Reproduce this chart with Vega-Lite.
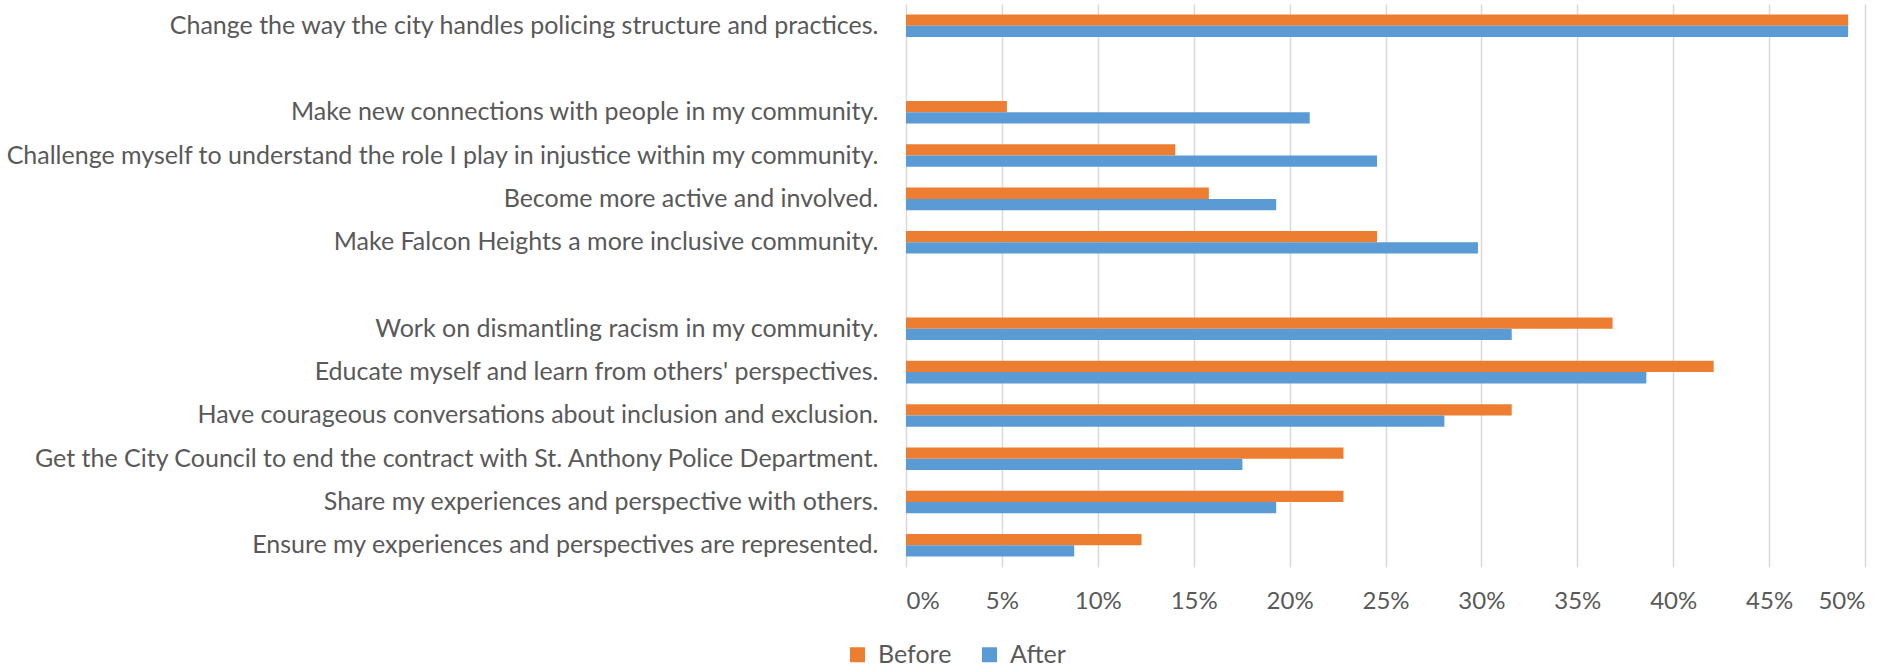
{
  "$schema": "https://vega.github.io/schema/vega-lite/v6.json",
  "width": 959,
  "height": 563,
  "autosize": {"type": "none"},
  "padding": {"left": 906, "top": 4, "right": 25, "bottom": 101},
  "config": {"view": {"stroke": null}, "font": "Lato", "background": "white"},
  "data": {"values": [
    {"item": "Change the way the city handles policing structure and practices.", "series": "Before", "value": 0.4912},
    {"item": "Change the way the city handles policing structure and practices.", "series": "After", "value": 0.4912},
    {"item": "Make new connections with people in my community.", "series": "Before", "value": 0.0526},
    {"item": "Make new connections with people in my community.", "series": "After", "value": 0.2105},
    {"item": "Challenge myself to understand the role I play in injustice within my community.", "series": "Before", "value": 0.1404},
    {"item": "Challenge myself to understand the role I play in injustice within my community.", "series": "After", "value": 0.2456},
    {"item": "Become more active and involved.", "series": "Before", "value": 0.1579},
    {"item": "Become more active and involved.", "series": "After", "value": 0.1930},
    {"item": "Make Falcon Heights a more inclusive community.", "series": "Before", "value": 0.2456},
    {"item": "Make Falcon Heights a more inclusive community.", "series": "After", "value": 0.2982},
    {"item": "Work on dismantling racism in my community.", "series": "Before", "value": 0.3684},
    {"item": "Work on dismantling racism in my community.", "series": "After", "value": 0.3158},
    {"item": "Educate myself and learn from others' perspectives.", "series": "Before", "value": 0.4211},
    {"item": "Educate myself and learn from others' perspectives.", "series": "After", "value": 0.3860},
    {"item": "Have courageous conversations about inclusion and exclusion.", "series": "Before", "value": 0.3158},
    {"item": "Have courageous conversations about inclusion and exclusion.", "series": "After", "value": 0.2807},
    {"item": "Get the City Council to end the contract with St. Anthony Police Department.", "series": "Before", "value": 0.2281},
    {"item": "Get the City Council to end the contract with St. Anthony Police Department.", "series": "After", "value": 0.1754},
    {"item": "Share my experiences and perspective with others.", "series": "Before", "value": 0.2281},
    {"item": "Share my experiences and perspective with others.", "series": "After", "value": 0.1930},
    {"item": "Ensure my experiences and perspectives are represented.", "series": "Before", "value": 0.1228},
    {"item": "Ensure my experiences and perspectives are represented.", "series": "After", "value": 0.0877}
  ]},
  "mark": {"type": "bar"},
  "encoding": {
    "y": {
      "field": "item", "type": "nominal",
      "scale": {
        "domain": [
          "Change the way the city handles policing structure and practices.",
          " ",
          "Make new connections with people in my community.",
          "Challenge myself to understand the role I play in injustice within my community.",
          "Become more active and involved.",
          "Make Falcon Heights a more inclusive community.",
          "  ",
          "Work on dismantling racism in my community.",
          "Educate myself and learn from others' perspectives.",
          "Have courageous conversations about inclusion and exclusion.",
          "Get the City Council to end the contract with St. Anthony Police Department.",
          "Share my experiences and perspective with others.",
          "Ensure my experiences and perspectives are represented."
        ],
        "paddingInner": 0.48, "paddingOuter": 0.24
      },
      "axis": {"title": null, "ticks": false, "domain": false, "labelFontSize": 25, "labelColor": "#595959", "labelPadding": 28, "labelLimit": 1000}
    },
    "yOffset": {"field": "series", "type": "nominal", "scale": {"domain": ["Before", "After"]}},
    "x": {
      "field": "value", "type": "quantitative",
      "scale": {"domain": [0, 0.5]},
      "axis": {"title": null, "format": "%", "values": [0, 0.05, 0.1, 0.15, 0.2, 0.25, 0.3, 0.35, 0.4, 0.45, 0.5], "domain": false, "ticks": false, "gridColor": "#D9D9D9", "gridWidth": 1.5, "labelFontSize": 24, "labelColor": "#595959", "labelPadding": 22}
    },
    "color": {
      "field": "series", "type": "nominal",
      "scale": {"domain": ["Before", "After"], "range": ["#ED7D31", "#5B9BD5"]},
      "legend": {"title": null, "orient": "none", "legendX": -61, "legendY": 638, "direction": "horizontal", "symbolType": "square", "symbolSize": 225, "symbolStrokeWidth": 0, "labelFontSize": 25, "labelColor": "#595959", "columnPadding": 25, "labelOffset": 8}
    }
  }
}
